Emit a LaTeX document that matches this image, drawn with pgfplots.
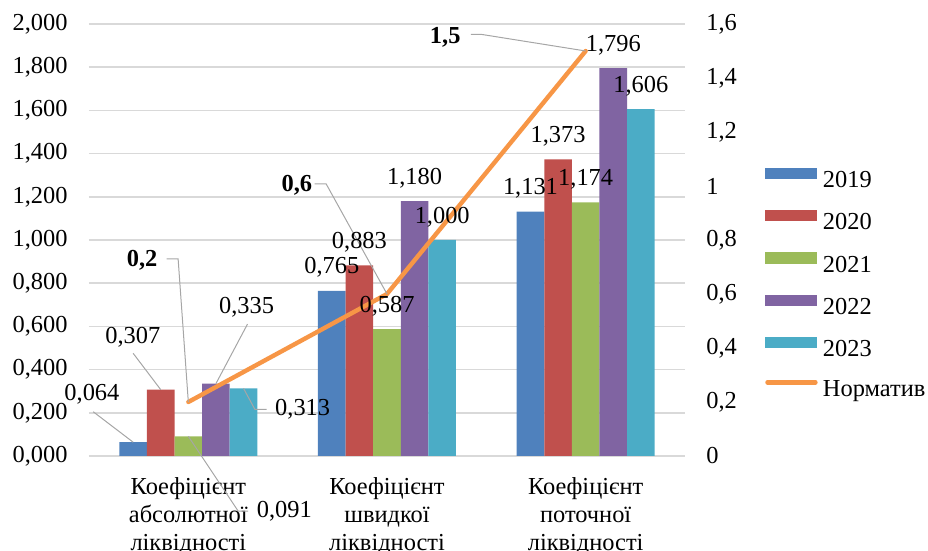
\documentclass[border=0pt]{standalone}
\usepackage{fontspec}
\setmainfont{Liberation Serif}
\usepackage{pgfplots}
\pgfplotsset{compat=1.18}

\definecolor{c19}{HTML}{4F81BD}
\definecolor{c20}{HTML}{C0504D}
\definecolor{c21}{HTML}{9BBB59}
\definecolor{c22}{HTML}{8064A2}
\definecolor{c23}{HTML}{4BACC6}
\definecolor{norm}{HTML}{F79646}
\definecolor{gridc}{HTML}{D9D9D9}
\definecolor{leadc}{HTML}{A6A6A6}

\pgfplotsset{
  barleg/.style={legend image code/.code={\fill[##1] (0pt,1.2pt) rectangle (26pt,6.8pt);}},
  lineleg/.style={legend image code/.code={\draw[##1] (1pt,4pt) -- (25pt,4pt);}},
  base/.style={scale only axis, width=298pt, height=216pt, at={(0,0)}, anchor=south west,
    xmin=-0.5, xmax=2.5, axis line style={draw=none}, major tick length=0pt},
}
\tikzset{ldr/.style={draw=leadc, line width=0.5pt}, lbl/.style={inner sep=0pt}}

\begin{document}
\begin{tikzpicture}[font=\fontsize{12.2}{14}\selectfont]
\path[use as bounding box] (-44.5pt,-47.5pt) rectangle (419.5pt,228pt);
\begin{axis}[base,
  ybar=0pt, bar width=13.8pt,
  ymin=0, ymax=2,
  ytick={0,0.2,0.4,0.6,0.8,1,1.2,1.4,1.6,1.8,2},
  ymajorgrids, grid style={gridc, line width=0.85pt},
  yticklabel style={/pgf/number format/fixed, /pgf/number format/fixed zerofill,
    /pgf/number format/precision=3, /pgf/number format/use comma,
    /pgf/number format/assume math mode=true, inner sep=0pt, xshift=-10.5pt},
  xtick={0,1,2},
  xticklabels={{Коефіцієнт\\абсолютної\\ліквідності},{Коефіцієнт\\швидкої\\ліквідності},{Коефіцієнт\\поточної\\ліквідності}},
  xticklabel style={align=center, inner sep=0pt, yshift=-10.5pt},
  legend style={at={(1.134,0.668)}, anchor=north west, draw=none, fill=none, inner sep=0pt,
    row sep=8.85pt, column sep=2.65pt, nodes={inner sep=0pt, text height=8.5pt, text depth=2.5pt}},
  legend cell align=left,
]
\addplot[fill=c19, draw=none, barleg] coordinates {(0,0.064) (1,0.765) (2,1.131)};
\addplot[fill=c20, draw=none, barleg] coordinates {(0,0.307) (1,0.883) (2,1.373)};
\addplot[fill=c21, draw=none, barleg] coordinates {(0,0.091) (1,0.587) (2,1.174)};
\addplot[fill=c22, draw=none, barleg] coordinates {(0,0.335) (1,1.180) (2,1.796)};
\addplot[fill=c23, draw=none, barleg] coordinates {(0,0.313) (1,1.000) (2,1.606)};
\addlegendentry{2019}
\addlegendentry{2020}
\addlegendentry{2021}
\addlegendentry{2022}
\addlegendentry{2023}
\addlegendimage{norm, line width=2.2pt, line cap=round, lineleg}
\addlegendentry{Норматив}
% bar tops, used by the labels drawn above the line
\coordinate (b11) at (axis cs:-0.2779,0.064);
\coordinate (b12) at (axis cs:-0.1389,0.307);
\coordinate (b13) at (axis cs:0,0.091);
\coordinate (b14) at (axis cs:0.1389,0.335);
\coordinate (b15) at (axis cs:0.2779,0.313);
\coordinate (b21) at (axis cs:0.7221,0.765);
\coordinate (b22) at (axis cs:0.8611,0.883);
\coordinate (b23) at (axis cs:1,0.587);
\coordinate (b24) at (axis cs:1.1389,1.180);
\coordinate (b25) at (axis cs:1.2779,1.000);
\coordinate (b31) at (axis cs:1.7221,1.131);
\coordinate (b32) at (axis cs:1.8611,1.373);
\coordinate (b33) at (axis cs:2,1.174);
\coordinate (b34) at (axis cs:2.1389,1.796);
\coordinate (b35) at (axis cs:2.2779,1.606);
\end{axis}

\begin{axis}[base, clip=false,
  ymin=0, ymax=1.6,
  axis x line=none,
  axis y line*=right,
  ytick={0,0.2,0.4,0.6,0.8,1,1.2,1.4,1.6},
  yticklabel style={/pgf/number format/fixed, /pgf/number format/precision=1,
    /pgf/number format/use comma, /pgf/number format/assume math mode=true,
    inner sep=0pt, xshift=10.5pt},
]
\addplot[norm, line width=2.2pt, line join=round, line cap=round] coordinates {(0,0.2) (1,0.6) (2,1.5)};
\coordinate (n1) at (axis cs:0,0.2);
\coordinate (n2) at (axis cs:1,0.6);
\coordinate (n3) at (axis cs:2,1.5);
% leader lines
\draw[ldr] ([shift={(-20pt,15.25pt)}]b11) -- (b11);
\draw[ldr] ([shift={(-13.8pt,18.2pt)}]b12) -- (b12);
\draw[ldr] (b13) -- ([shift={(24.9pt,-37.35pt)}]b13) -- ([shift={(29.9pt,-37.35pt)}]b13);
\draw[ldr] ([shift={(15.8pt,29.8pt)}]b14) -- (b14);
\draw[ldr] (b15) -- ([shift={(5.65pt,-10.45pt)}]b15) -- ([shift={(11.5pt,-10.45pt)}]b15);
\draw[ldr] ([shift={(-10.9pt,71.5pt)}]n1) -- ([shift={(-5.1pt,71.5pt)}]n1) -- (n1);
\draw[ldr] ([shift={(-36.25pt,55pt)}]n2) -- ([shift={(-30.4pt,55pt)}]n2) -- (n2);
\draw[ldr] ([shift={(-57.4pt,8.35pt)}]n3) -- ([shift={(-52.4pt,8.35pt)}]n3) -- (n3);
% value labels
\node[lbl] at ([shift={(-20.6pt,24.1pt)}]b11) {0,064};
\node[lbl] at ([shift={(-13.95pt,26.35pt)}]b12) {0,307};
\node[lbl, anchor=west] at ([shift={(34.1pt,-37.35pt)}]b13) {0,091};
\node[lbl] at ([shift={(15.3pt,38.3pt)}]b14) {0,335};
\node[lbl, anchor=west] at ([shift={(15.65pt,-10.45pt)}]b15) {0,313};
\node[lbl] at ([yshift=11.5pt]b21) {0,765};
\node[lbl] at ([yshift=11.5pt]b22) {0,883};
\node[lbl] at ([yshift=11.5pt]b23) {0,587};
\node[lbl] at ([yshift=11.5pt]b24) {1,180};
\node[lbl] at ([yshift=11.5pt]b25) {1,000};
\node[lbl] at ([yshift=11.5pt]b31) {1,131};
\node[lbl] at ([yshift=11.5pt]b32) {1,373};
\node[lbl] at ([yshift=11.5pt]b33) {1,174};
\node[lbl] at ([yshift=11.5pt]b34) {1,796};
\node[lbl] at ([yshift=11.5pt]b35) {1,606};
\node[lbl, anchor=east] at ([shift={(-15.25pt,71pt)}]n1) {\textbf{0,2}};
\node[lbl, anchor=east] at ([shift={(-37.25pt,54.5pt)}]n2) {\textbf{0,6}};
\node[lbl, anchor=east] at ([shift={(-62.4pt,6.85pt)}]n3) {\textbf{1,5}};
\end{axis}
\end{tikzpicture}
\end{document}
